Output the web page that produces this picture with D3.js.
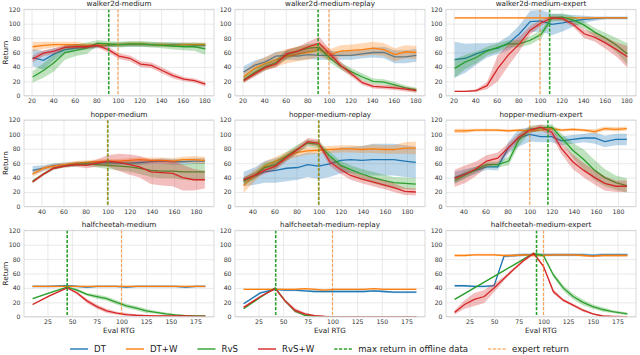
<!DOCTYPE html>
<html>
<head>
<meta charset="utf-8">
<script src="https://cdn.jsdelivr.net/npm/d3@7"></script>
<style>
  body { margin: 0; background: #fff; }
  text { font-family: "DejaVu Sans", sans-serif; }
</style>
</head>
<body>
<svg id="chart" width="640" height="355"></svg>
<script>
/*
Data
*/
var walkerX = [21, 31, 41, 51, 61, 71, 81, 91, 101, 111, 121, 131, 141, 151, 161, 171, 181];
var hopperX = [32, 42, 51, 61, 71, 81, 90, 100, 110, 120, 129, 139, 149, 159, 168, 178, 188];
var hcmX  = [10, 27, 45, 55, 65, 75, 85, 95, 105, 115, 125, 135, 145, 155, 165, 175, 185];
var hcmrX = [10, 27, 42, 52, 62, 72, 82, 92, 102, 112, 122, 132, 142, 152, 162, 172, 185];
var hcmeX = [10, 20, 30, 40, 50, 60, 70, 80, 90, 100, 110, 120, 130, 140, 150, 160, 170, 185];

var walkerTicks = [20, 40, 60, 80, 100, 120, 140, 160, 180];
var hopperTicks = [40, 60, 80, 100, 120, 140, 160, 180];
var hcTicks = [25, 50, 75, 100, 125, 150, 175];
var returnTicks = [0, 20, 40, 60, 80, 100, 120];

/* walker2d-medium */
var wmDT     = [53, 49, 58, 64, 66, 67, 69, 70, 71, 71, 71, 71, 71, 71, 71, 70, 70];
var wmDTsd   = [12, 13, 8, 5, 4, 3, 3, 3, 3, 3, 3, 3, 3, 3, 3, 3, 3];
var wmDTW    = [68, 70, 71, 71, 71, 70, 70, 71, 71, 72, 72, 71, 71, 70, 71, 71, 71];
var wmDTWsd  = [7, 5, 4, 4, 4, 3, 3, 3, 3, 3, 3, 3, 3, 3, 3, 3, 3];
var wmRvS    = [26, 35, 46, 60, 63, 66, 73, 72, 71, 72, 72, 71, 70, 69, 68, 68, 65];
var wmRvSsd  = [8, 10, 12, 10, 8, 8, 4, 4, 4, 4, 4, 4, 4, 5, 5, 6, 8];
var wmRvSW   = [51, 59, 62, 67, 68, 68, 70, 64, 55, 52, 44, 42, 35, 28, 23, 21, 16];
var wmRvSWsd = [5, 4, 4, 3, 3, 3, 3, 4, 4, 4, 4, 4, 4, 4, 3, 3, 3];

/* walker2d-medium-replay */
var wmrDT     = [33, 42, 47, 55, 56, 55, 57, 56, 56, 56, 56, 58, 60, 60, 54, 54, 56];
var wmrDTsd   = [8, 7, 6, 6, 6, 6, 6, 6, 6, 6, 6, 6, 7, 8, 9, 9, 9];
var wmrDTW    = [26, 38, 45, 50, 55, 58, 60, 64, 57, 62, 63, 64, 66, 64, 57, 61, 60];
var wmrDTWsd  = [8, 8, 9, 10, 10, 10, 10, 10, 8, 8, 8, 9, 9, 9, 9, 9, 9];
var wmrRvS    = [22, 32, 40, 46, 57, 62, 66, 67, 52, 41, 33, 26, 20, 19, 15, 11, 8];
var wmrRvSsd  = [4, 5, 5, 5, 6, 6, 6, 6, 6, 5, 5, 5, 4, 4, 4, 3, 3];
var wmrRvSW   = [21, 30, 39, 44, 58, 62, 68, 73, 58, 42, 30, 18, 13, 12, 11, 9, 7];
var wmrRvSWsd = [3, 4, 4, 5, 6, 6, 7, 9, 6, 5, 4, 3, 3, 3, 3, 3, 3];

/* walker2d-medium-expert */
var wmeDT     = [50, 52, 58, 63, 66, 73, 86, 103, 104, 99, 101, 104, 106, 107, 108, 108, 108];
var wmeDTsd   = [25, 20, 15, 10, 8, 10, 12, 15, 15, 15, 12, 8, 5, 3, 2, 2, 2];
var wmeDTW    = [108, 108, 108, 108, 108, 108, 108, 108, 108, 108, 108, 108, 108, 108, 108, 108, 108];
var wmeDTWsd  = [1, 1, 1, 1, 1, 1, 1, 1, 1, 1, 1, 1, 1, 1, 1, 1, 1];
var wmeRvS    = [38, 47, 53, 62, 67, 72, 72, 77, 85, 108, 109, 105, 98, 88, 80, 70, 58];
var wmeRvSsd  = [13, 10, 8, 6, 6, 5, 5, 6, 6, 5, 5, 5, 5, 6, 7, 10, 15];
var wmeRvSW   = [6, 6, 7, 14, 38, 57, 72, 91, 101, 108, 107, 99, 86, 81, 73, 64, 54];
var wmeRvSWsd = [1, 1, 2, 5, 18, 15, 10, 6, 4, 3, 3, 4, 6, 6, 8, 10, 15];

/* hopper-medium */
var hmDT     = [50, 53, 57, 58, 59, 60, 60, 61, 60, 60, 61, 62, 63, 62, 62, 63, 63];
var hmDTsd   = [6, 4, 3, 3, 3, 3, 3, 3, 3, 3, 3, 3, 4, 4, 4, 4, 4];
var hmDTW    = [45, 53, 56, 58, 60, 61, 62, 63, 63, 64, 65, 64, 64, 63, 65, 65, 64];
var hmDTWsd  = [4, 3, 3, 3, 3, 3, 3, 3, 3, 3, 3, 4, 4, 4, 4, 5, 5];
var hmRvS    = [35, 45, 53, 56, 58, 59, 58, 57, 56, 55, 53, 50, 49, 49, 48, 48, 48];
var hmRvSsd  = [2, 2, 2, 2, 3, 3, 4, 5, 6, 7, 8, 9, 10, 10, 11, 12, 12];
var hmRvSW   = [34, 45, 53, 56, 58, 57, 60, 63, 61, 58, 55, 48, 47, 46, 40, 37, 37];
var hmRvSWsd = [2, 2, 2, 2, 3, 4, 5, 8, 12, 14, 15, 17, 18, 18, 18, 15, 12];

/* hopper-medium-replay */
var hmrDT     = [38, 42, 48, 50, 53, 54, 58, 56, 59, 64, 65, 64, 65, 65, 65, 63, 61];
var hmrDTsd   = [10, 12, 15, 17, 18, 17, 17, 18, 18, 18, 18, 20, 22, 22, 22, 22, 22];
var hmrDTW    = [29, 43, 56, 63, 70, 75, 77, 78, 79, 80, 80, 79, 80, 79, 79, 81, 81];
var hmrDTWsd  = [10, 8, 6, 6, 6, 6, 5, 5, 5, 5, 5, 5, 6, 6, 6, 8, 9];
var hmrRvS    = [35, 43, 54, 58, 70, 80, 88, 86, 70, 57, 51, 45, 40, 36, 33, 32, 31];
var hmrRvSsd  = [5, 5, 6, 6, 6, 6, 5, 5, 6, 6, 6, 7, 8, 8, 8, 8, 8];
var hmrRvSW   = [37, 43, 50, 56, 68, 79, 90, 88, 62, 51, 43, 38, 34, 30, 26, 21, 20];
var hmrRvSWsd = [4, 4, 5, 5, 5, 5, 5, 5, 6, 6, 6, 6, 6, 6, 6, 5, 5];

/* hopper-medium-expert */
var hmeDT     = [40, 46, 50, 55, 55, 82, 95, 100, 97, 97, 91, 93, 95, 95, 90, 93, 93];
var hmeDTsd   = [8, 6, 5, 4, 5, 8, 12, 10, 8, 8, 6, 6, 6, 8, 8, 8, 8];
var hmeDTW    = [105, 105, 106, 106, 106, 105, 106, 105, 106, 108, 106, 107, 106, 104, 108, 107, 108];
var hmeDTWsd  = [3, 3, 2, 2, 2, 2, 2, 2, 2, 3, 2, 2, 2, 3, 3, 3, 3];
var hmeRvS    = [36, 44, 51, 58, 58, 63, 92, 107, 109, 110, 95, 78, 65, 50, 40, 33, 29];
var hmeRvSsd  = [5, 5, 4, 4, 4, 6, 8, 5, 4, 4, 6, 10, 14, 14, 12, 10, 10];
var hmeRvSW   = [39, 45, 52, 63, 67, 82, 96, 106, 110, 103, 80, 62, 50, 40, 32, 28, 28];
var hmeRvSWsd = [12, 12, 10, 8, 8, 6, 5, 4, 4, 6, 8, 10, 10, 10, 10, 8, 8];

/* halfcheetah-medium */
var hcmDT     = [42, 42, 43, 42, 41, 42, 42, 42, 41, 42, 42, 42, 42, 42, 41, 42, 42];
var hcmDTsd   = [1.5, 1.5, 1.5, 1.5, 1.5, 1.5, 1.5, 1.5, 1.5, 1.5, 1.5, 1.5, 1.5, 1.5, 1.5, 1.5, 1.5];
var hcmDTW    = [42, 42, 42, 42, 42, 42, 42, 42, 42, 42, 42, 42, 42, 42, 42, 42, 42];
var hcmDTWsd  = [1, 1, 1, 1, 1, 1, 1, 1, 1, 1, 1, 1, 1, 1, 1, 1, 1];
var hcmRvS    = [25, 33, 41, 37, 31, 28, 25, 20, 15, 12, 8, 6, 4, 2.5, 1.5, 1, 1];
var hcmRvSsd  = [1, 1, 1, 2, 2, 3, 3, 3, 3, 3, 3, 2, 2, 1, 1, 1, 1];
var hcmRvSW   = [17, 29, 40, 33, 22, 14, 8, 5, 3, 2, 1.5, 1, 1, 1, 1, 0.5, 0.5];
var hcmRvSWsd = [1, 1, 1, 2, 3, 3, 3, 2, 2, 1, 1, 1, 1, 1, 1, 1, 1];

/* halfcheetah-medium-replay */
var hcmrDT     = [18, 33, 38, 37, 37, 36, 35, 35, 35, 35, 35, 35, 36, 35, 34, 34, 34];
var hcmrDTsd   = [1.5, 1.5, 1.5, 1.5, 1.5, 1.5, 1.5, 1.5, 1.5, 1.5, 1.5, 1.5, 1.5, 1.5, 1.5, 1.5, 1.5];
var hcmrDTW    = [38, 38, 38, 38, 38, 39, 38, 37, 38, 38, 38, 38, 39, 38, 38, 38, 38];
var hcmrDTWsd  = [1, 1, 1, 1, 1, 1, 1, 1, 1, 1, 1, 1, 1, 1, 1, 1, 1];
var hcmrRvS    = [11, 27, 40, 22, 8, 2, 0.5, 0, 0, 0, 0, 0, 0, 0, 0, 0, 0];
var hcmrRvSsd  = [1, 1, 1, 2, 2, 1, 1, 1, 1, 1, 1, 1, 1, 1, 1, 1, 1];
var hcmrRvSW   = [13, 28, 39, 22, 9, 4, 1.5, 0.5, 0, 0, 0, 0, 0, 0, 0, 0, 0];
var hcmrRvSWsd = [1, 1, 1, 2, 3, 2, 1, 1, 0.5, 0.5, 0.5, 0.5, 0.5, 0.5, 0.5, 0.5, 0.5];

/* halfcheetah-medium-expert */
var hcmeDT     = [43, 43, 42, 42, 43, 84, 85, 86, 86, 86, 86, 86, 86, 86, 85, 86, 86, 86];
var hcmeDTsd   = [1.5, 1.5, 1.5, 1.5, 1.5, 2, 2, 2, 2, 2, 2, 2, 2, 2, 2, 2, 2, 2];
var hcmeDTW    = [85, 85, 86, 86, 86, 85, 85, 86, 85, 85, 86, 86, 86, 85, 84, 85, 85, 85];
var hcmeDTWsd  = [1.5, 1.5, 1.5, 1.5, 1.5, 1.5, 1.5, 1.5, 1.5, 1.5, 1.5, 1.5, 1.5, 1.5, 1.5, 1.5, 1.5, 1.5];
var hcmeRvS    = [24, 32, 40, 48, 56, 64, 72, 80, 88, 85, 58, 40, 28, 20, 14, 10, 7, 4];
var hcmeRvSsd  = [1, 1, 1, 1, 1, 1, 1, 1, 1, 2, 3, 4, 4, 4, 3, 3, 2, 2];
var hcmeRvSW   = [6, 17, 24, 28, 40, 53, 66, 78, 88, 70, 35, 23, 16, 9, 4, 1, 0.5, 0];
var hcmeRvSWsd = [3, 6, 9, 9, 6, 3, 2, 2, 2, 2, 3, 2, 2, 2, 1, 1, 0.5, 0.5];

/* vertical markers: max return in offline data / expert return */
var maxReturnX = [91.5, 90, 109, 100, 100, 116.5, 45, 42.5, 93];
var expertX = [100, 100, 100, 100, 100, 100, 100, 100, 100];

var titles = ["walker2d-medium", "walker2d-medium-replay", "walker2d-medium-expert",
              "hopper-medium", "hopper-medium-replay", "hopper-medium-expert",
              "halfcheetah-medium", "halfcheetah-medium-replay", "halfcheetah-medium-expert"];

/*
Panel table built from the arrays above
*/
var panels = [
  {x: walkerX, dom: [13, 189], ticks: walkerTicks,
   s: [[wmDT, wmDTsd], [wmDTW, wmDTWsd], [wmRvS, wmRvSsd], [wmRvSW, wmRvSWsd]]},
  {x: walkerX, dom: [13, 189], ticks: walkerTicks,
   s: [[wmrDT, wmrDTsd], [wmrDTW, wmrDTWsd], [wmrRvS, wmrRvSsd], [wmrRvSW, wmrRvSWsd]]},
  {x: walkerX, dom: [13, 189], ticks: walkerTicks,
   s: [[wmeDT, wmeDTsd], [wmeDTW, wmeDTWsd], [wmeRvS, wmeRvSsd], [wmeRvSW, wmeRvSWsd]]},
  {x: hopperX, dom: [24.2, 196.3], ticks: hopperTicks,
   s: [[hmDT, hmDTsd], [hmDTW, hmDTWsd], [hmRvS, hmRvSsd], [hmRvSW, hmRvSWsd]]},
  {x: hopperX, dom: [24.2, 196.3], ticks: hopperTicks,
   s: [[hmrDT, hmrDTsd], [hmrDTW, hmrDTWsd], [hmrRvS, hmrRvSsd], [hmrRvSW, hmrRvSWsd]]},
  {x: hopperX, dom: [24.2, 196.3], ticks: hopperTicks,
   s: [[hmeDT, hmeDTsd], [hmeDTW, hmeDTWsd], [hmeRvS, hmeRvSsd], [hmeRvSW, hmeRvSWsd]]},
  {x: hcmX, dom: [1.25, 193.75], ticks: hcTicks,
   s: [[hcmDT, hcmDTsd], [hcmDTW, hcmDTWsd], [hcmRvS, hcmRvSsd], [hcmRvSW, hcmRvSWsd]]},
  {x: hcmrX, dom: [1.25, 193.75], ticks: hcTicks,
   s: [[hcmrDT, hcmrDTsd], [hcmrDTW, hcmrDTWsd], [hcmrRvS, hcmrRvSsd], [hcmrRvSW, hcmrRvSWsd]]},
  {x: hcmeX, dom: [1.25, 193.75], ticks: hcTicks,
   s: [[hcmeDT, hcmeDTsd], [hcmeDTW, hcmeDTWsd], [hcmeRvS, hcmeRvSsd], [hcmeRvSW, hcmeRvSWsd]]}
];

var colors = ["#1f77b4", "#ff7f0e", "#2ca02c", "#d62728"];
var labels = ["DT", "DT+W", "RvS", "RvS+W"];

/*
Layout
*/
var colLeft = [24, 235, 446];
var plotW = 190;
var rowTop = [9.3, 120, 230.3];
var plotH = 86.4;

var svg = d3.select("#chart");

function drawPanel(p, i){
  let row = Math.floor(i / 3), col = i % 3;
  let g = svg.append("g")
             .attr("transform", "translate(" + colLeft[col] + "," + rowTop[row] + ")");

  let x = d3.scaleLinear().domain(p.dom).range([0, plotW]);
  let y = d3.scaleLinear().domain([0, 120]).range([plotH, 0]);

  // grid + tick labels
  let xAxis = g.append("g")
               .attr("transform", "translate(0," + plotH + ")")
               .call(d3.axisBottom(x).tickValues(p.ticks).tickSize(-plotH).tickPadding(2.8));
  let yAxis = g.append("g")
               .call(d3.axisLeft(y).tickValues(returnTicks).tickSize(-plotW).tickPadding(3.5));
  [xAxis, yAxis].forEach(function(a){
    a.select(".domain").remove();
    a.selectAll("line").attr("stroke", "#e3e3e3").attr("stroke-width", 0.8);
    a.selectAll("text").attr("fill", "#333").style("font-size", "6.2px")
     .style("font-family", "'DejaVu Sans', sans-serif");
  });

  let clipId = "clip" + i;
  g.append("clipPath").attr("id", clipId)
   .append("rect").attr("width", plotW).attr("height", plotH);
  let body = g.append("g").attr("clip-path", "url(#" + clipId + ")");

  let line = d3.line()
               .x(function(d){ return x(d[0]); })
               .y(function(d){ return y(d[1]); });
  let area = d3.area()
               .x(function(d){ return x(d[0]); })
               .y0(function(d){ return y(d[1] - d[2]); })
               .y1(function(d){ return y(d[1] + d[2]); });

  p.s.forEach(function(s, k){
    let pts = p.x.map(function(xv, j){ return [xv, s[0][j], s[1][j]]; });
    body.append("path").attr("d", area(pts))
        .attr("fill", colors[k]).attr("fill-opacity", 0.3).attr("stroke", "none");
    body.append("path").attr("d", line(pts))
        .attr("fill", "none").attr("stroke", colors[k]).attr("stroke-width", 1.3);
  });

  body.append("line")
      .attr("x1", x(maxReturnX[i])).attr("x2", x(maxReturnX[i]))
      .attr("y1", 0).attr("y2", plotH)
      .attr("stroke", "#2ca02c").attr("stroke-width", 1.6)
      .attr("stroke-dasharray", "3.2,1.6");
  body.append("line")
      .attr("x1", x(expertX[i])).attr("x2", x(expertX[i]))
      .attr("y1", 0).attr("y2", plotH)
      .attr("stroke", "#ff7f0e").attr("stroke-opacity", 0.7).attr("stroke-width", 1.1)
      .attr("stroke-dasharray", "3.2,1.6");

  g.append("rect").attr("width", plotW).attr("height", plotH)
   .attr("fill", "none").attr("stroke", "#cfcfcf").attr("stroke-width", 0.8);

  g.append("text")
   .attr("x", plotW / 2).attr("y", -3)
   .attr("text-anchor", "middle")
   .attr("fill", "#222")
   .style("font-size", "7.2px")
   .text(titles[i]);

  if (col == 0){
    g.append("text")
     .attr("transform", "translate(" + (8 - colLeft[0]) + "," + (plotH / 2) + ") rotate(-90)")
     .attr("text-anchor", "middle")
     .attr("fill", "#222")
     .style("font-size", "7.2px")
     .text("Return");
  }
  if (row == 2){
    g.append("text")
     .attr("x", plotW / 2).attr("y", plotH + 16)
     .attr("text-anchor", "middle")
     .attr("fill", "#222")
     .style("font-size", "7.2px")
     .text("Eval RTG");
  }
}

panels.forEach(drawPanel);

/*
Legend
*/
var legendItems = [
  {label: "DT", color: colors[0], dash: null, op: 1},
  {label: "DT+W", color: colors[1], dash: null, op: 1},
  {label: "RvS", color: colors[2], dash: null, op: 1},
  {label: "RvS+W", color: colors[3], dash: null, op: 1},
  {label: "max return in offline data", color: "#2ca02c", dash: "3.2,1.6", op: 1},
  {label: "expert return", color: "#ff7f0e", dash: "3.2,1.6", op: 0.6}
];
var legend = svg.append("g").attr("transform", "translate(0,349)");
var cursor = 0;
legendItems.forEach(function(it){
  let item = legend.append("g").attr("transform", "translate(" + cursor + ",0)");
  item.append("line").attr("x1", 0).attr("x2", 18).attr("y1", 0).attr("y2", 0)
      .attr("stroke", it.color).attr("stroke-opacity", it.op)
      .attr("stroke-width", 1.4)
      .attr("stroke-dasharray", it.dash);
  let t = item.append("text").attr("x", 24).attr("y", 3)
              .attr("fill", "#222").style("font-size", "8.6px").text(it.label);
  cursor += 24 + t.node().getComputedTextLength() + 20;
});
var legendW = cursor - 20;
legend.attr("transform", "translate(" + (319.5 - legendW / 2) + ",349)");
</script>
</body>
</html>
